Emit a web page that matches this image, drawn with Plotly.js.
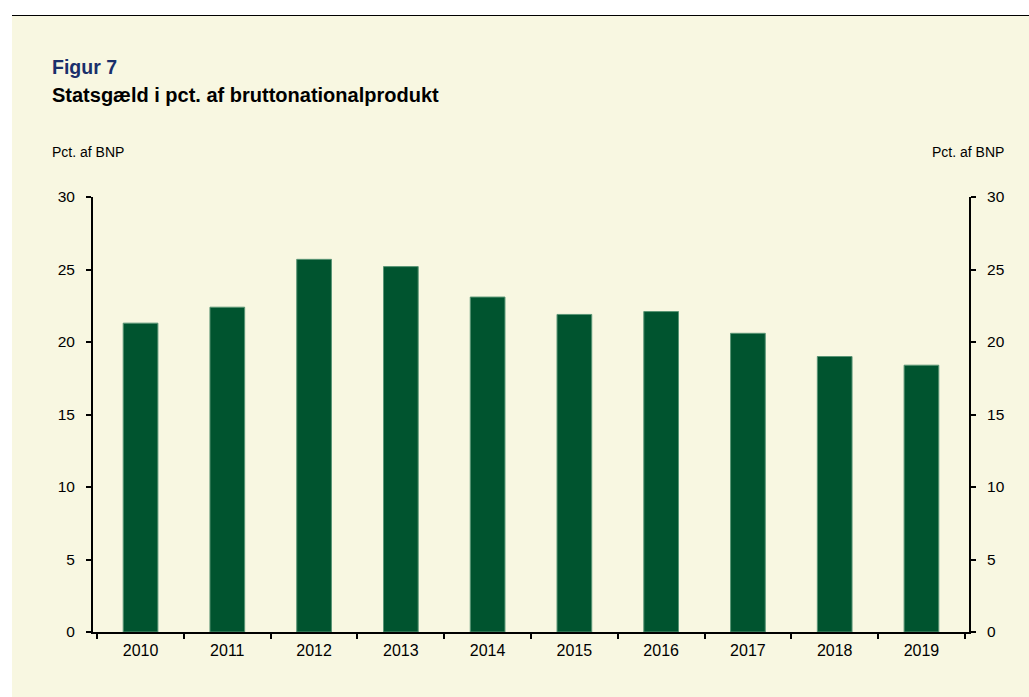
<!DOCTYPE html>
<html><head><meta charset="utf-8">
<script src="https://cdn.plot.ly/plotly-3.0.1.min.js"></script>
<style>
html,body{margin:0;padding:0;background:#ffffff;}
#wrap{position:absolute;left:12px;top:15px;width:1017px;height:682px;background:#F8F7E1;border-top:1px solid #000;}
#chart{position:absolute;left:0;top:0;width:1017px;height:681px;}
</style></head>
<body>
<div id="wrap"><div id="chart"></div></div>
<script>
const years = ['2010','2011','2012','2013','2014','2015','2016','2017','2018','2019'];
const debtPct = [21.3, 22.4, 25.7, 25.2, 23.1, 21.9, 22.1, 20.6, 19.0, 18.4];
const yTicks = [0, 5, 10, 15, 20, 25, 30];

const font = 'Liberation Sans, Arial, sans-serif';
const traces = [
  {type:'bar', x:years, y:debtPct, width:0.4,
   marker:{color:'#00542F', line:{color:'#5A9575', width:1}}, hoverinfo:'x+y'},
  {type:'scatter', mode:'markers', x:years, y:debtPct, yaxis:'y2',
   marker:{opacity:0}, hoverinfo:'skip', showlegend:false}
];
const layout = {
  width:1017, height:681,
  paper_bgcolor:'#F8F7E1', plot_bgcolor:'#F8F7E1',
  margin:{l:81, r:60, t:181, b:65},
  showlegend:false,
  font:{family:font, size:14, color:'#000'},
  xaxis:{type:'category', showline:true, linecolor:'#000', linewidth:2,
    ticks:'outside', tickson:'boundaries', ticklen:5, tickwidth:2, tickcolor:'#000',
    ticklabelstandoff:3, tickfont:{size:16}, showgrid:false, zeroline:false},
  yaxis:{range:[0,30], tickvals:yTicks, showline:true, linecolor:'#000', linewidth:2,
    ticks:'outside', ticklen:5, tickwidth:2, tickcolor:'#000', ticklabelstandoff:8,
    tickfont:{size:15.5}, showgrid:false, zeroline:false},
  yaxis2:{range:[0,30], tickvals:yTicks, overlaying:'y', side:'right', showline:true,
    linecolor:'#000', linewidth:2, ticks:'outside', ticklen:5, tickwidth:2, tickcolor:'#000',
    ticklabelstandoff:8, tickfont:{size:15.5}, showgrid:false, zeroline:false},
  annotations:[
    {text:'<b>Figur 7</b>', xref:'paper', yref:'paper', x:0, y:1, xanchor:'left', yanchor:'middle',
     showarrow:false, font:{size:19.5, color:'#1A2F6B'}},
    {text:'<b>Statsgæld i pct. af bruttonationalprodukt</b>', xref:'paper', yref:'paper', x:0, y:1, xanchor:'left', yanchor:'middle',
     showarrow:false, font:{size:20, color:'#000'}},
    {text:'Pct. af BNP', xref:'paper', yref:'paper', x:0, y:1, xanchor:'left', yanchor:'middle',
     showarrow:false, font:{size:14}},
    {text:'Pct. af BNP', xref:'paper', yref:'paper', x:1, y:1, xanchor:'right', yanchor:'middle',
     showarrow:false, font:{size:14}}
  ]
};
// position annotations in pixels relative to plot area (plot area: 876 x 435)
const pw = 876, ph = 435;
function px(xpix){ return (xpix - 93) / pw; }
function py(ypix){ return (632 - ypix) / ph; }
layout.annotations[0].x = px(50); layout.annotations[0].y = py(67);
layout.annotations[1].x = px(50); layout.annotations[1].y = py(95);
layout.annotations[2].x = px(50); layout.annotations[2].y = py(152);
layout.annotations[3].x = px(1006); layout.annotations[3].y = py(152);
Plotly.newPlot('chart', traces, layout, {displayModeBar:false, staticPlot:true});
</script>
</body></html>
